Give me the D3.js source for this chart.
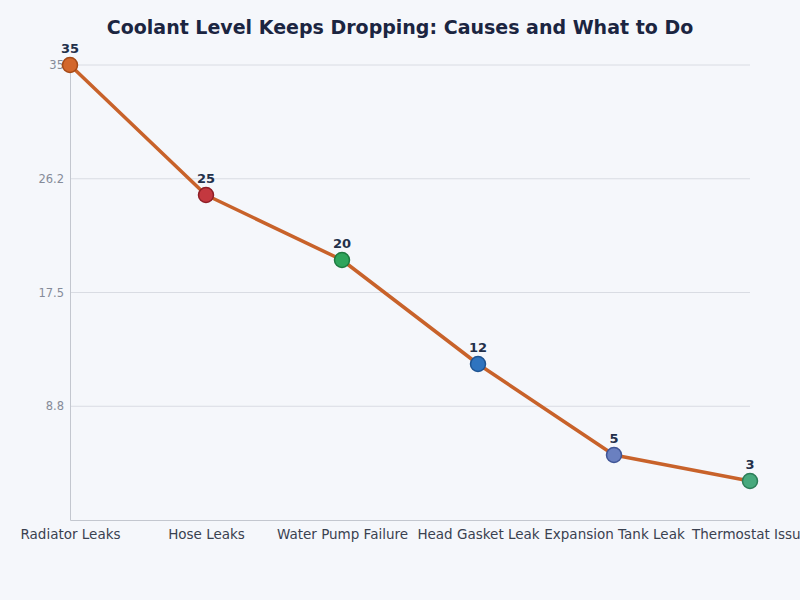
<!DOCTYPE html>
<html><head><meta charset="utf-8">
<script src="https://cdn.jsdelivr.net/npm/d3@7"></script>
<style>html,body{margin:0;padding:0;background:#f5f7fb;}svg{display:block;font-family:"DejaVu Sans",sans-serif;}</style>
</head><body>
<svg id="chart" width="800" height="600"></svg>
<script>
const categories = ["Radiator Leaks","Hose Leaks","Water Pump Failure","Head Gasket Leak","Expansion Tank Leak","Thermostat Issue"];
const values = [35, 25, 20, 12, 5, 3];
const pointColors = ["#d3672c","#c4383f","#2fa55c","#2f74bf","#6a80c0","#47a97d"];
const pointStrokes = ["#a44a18","#8f1f27","#1e7a40","#1f5491","#3f5596","#2c7d58"];
const yTickValues = [8.75, 17.5, 26.25, 35];
const yTickLabels = ["8.8","17.5","26.2","35"];
const title = "Coolant Level Keeps Dropping: Causes and What to Do";

const svg = d3.select("#chart");
const W = 800, H = 600;
const m = {left:70, right:50, top:65, bottom:80};
svg.append("rect").attr("width",W).attr("height",H).attr("fill","#f5f7fb");

const x = d3.scalePoint().domain(categories).range([m.left, W - m.right]).padding(0);
const y = d3.scaleLinear().domain([0, 35]).range([H - m.bottom, m.top]);

svg.append("text").attr("x",400).attr("y",34).attr("text-anchor","middle")
  .attr("font-size",19).attr("font-weight","bold").attr("fill","#1b2541").text(title);

// grid
svg.append("g").selectAll("line").data(yTickValues).join("line")
  .attr("x1",m.left).attr("x2",W-m.right)
  .attr("y1",d=>y(d)).attr("y2",d=>y(d))
  .attr("stroke","#d9dce3").attr("stroke-width",1);

// y axis
const yAxis = svg.append("g").attr("transform",`translate(${m.left},0)`)
  .call(d3.axisLeft(y).tickValues(yTickValues).tickFormat((d,i)=>yTickLabels[i]).tickSize(0).tickPadding(6));
yAxis.select(".domain").attr("stroke","#c3c7cf");
yAxis.selectAll("text").attr("font-size",11.5).attr("fill","#858b99").attr("font-family","DejaVu Sans");

// x axis
const xAxis = svg.append("g").attr("transform",`translate(0,${H-m.bottom})`)
  .call(d3.axisBottom(x).tickSize(0).tickPadding(9));
xAxis.select(".domain").attr("stroke","#c3c7cf");
xAxis.selectAll("text").attr("font-size",13.5).attr("fill","#3a4150").attr("font-family","DejaVu Sans");

const data = categories.map((c,i)=>({c, v:values[i], i}));

svg.append("path").datum(data)
  .attr("fill","none").attr("stroke","#c8622a").attr("stroke-width",3.5)
  .attr("stroke-linejoin","round")
  .attr("d", d3.line().x(d=>x(d.c)).y(d=>y(d.v)));

svg.append("g").selectAll("circle").data(data).join("circle")
  .attr("cx",d=>x(d.c)).attr("cy",d=>y(d.v)).attr("r",7.5)
  .attr("fill",d=>pointColors[d.i]).attr("stroke",d=>pointStrokes[d.i]).attr("stroke-width",1.5);

svg.append("g").selectAll("text").data(data).join("text")
  .attr("x",d=>x(d.c)).attr("y",d=>y(d.v)-12).attr("text-anchor","middle")
  .attr("font-size",13).attr("font-weight","bold").attr("fill","#23304a")
  .text(d=>d.v);
</script>
</body></html>
